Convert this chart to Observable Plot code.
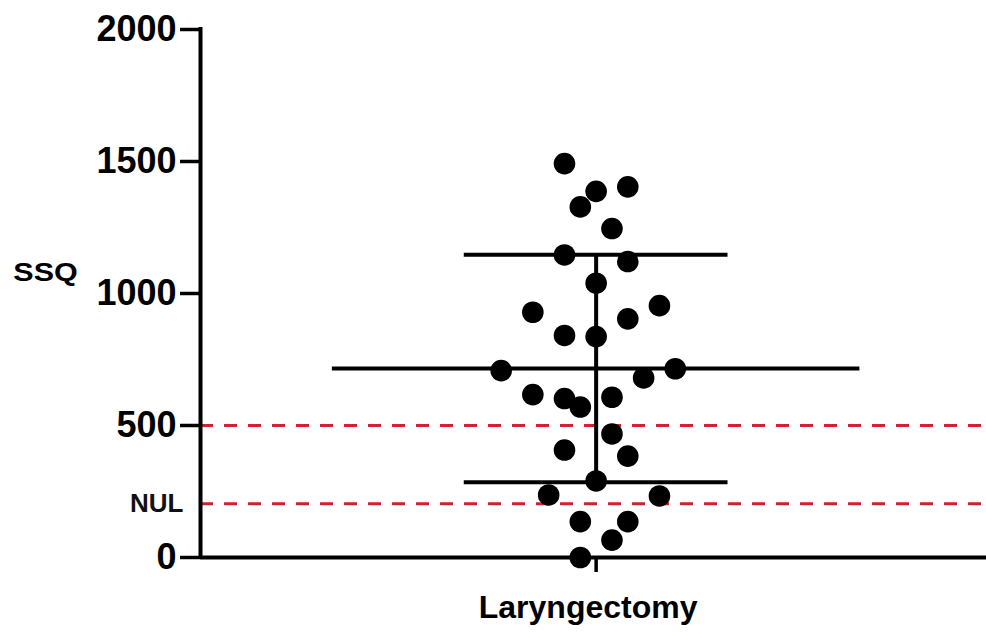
<!DOCTYPE html>
<html>
<head>
<meta charset="utf-8">
<script src="https://cdn.jsdelivr.net/npm/d3@7"></script>
<script src="https://cdn.jsdelivr.net/npm/@observablehq/plot@0.6"></script>
<style>
  html, body { margin: 0; padding: 0; background: #fff; }
  #chart svg { display: block; }
</style>
</head>
<body>
<div id="chart"></div>
<script>
// ---- data ----
const category = "Laryngectomy";
const ssqValues = [1492, 1387, 1404, 1328, 1246, 1146, 1121, 1039, 929, 954,
                   904, 841, 837, 708, 715, 680, 617, 602, 570, 607,
                   468, 407, 384, 290, 237, 233, 136, 136, 66, 0];
// horizontal scatter position of each dot (in half-dot steps)
const jitterIndex = [-2, 0, 2, -1, 1, -2, 2, 0, -4, 4,
                      2, -2, 0, -6, 5, 3, -4, -2, -1, 1,
                      1, -2, 2, 0, -3, 4, -1, 2, 1, -1];
const yTicks = [0, 500, 1000, 1500, 2000];
const thresholdValue = 500;
const nulValue = 204;
const nulLabel = "NUL";
const yLabel = "SSQ";

// ---- derived ----
const jitterStep = 0.06;
const points = ssqValues.map((v, i) => ({value: v, offset: jitterIndex[i] * jitterStep}));
const meanValue = d3.mean(ssqValues);
const sdValue = d3.deviation(ssqValues);
const xMin = -1.5, xMax = 1.48;
const font = "Liberation Sans, Arial, Helvetica, sans-serif";

const chart = Plot.plot({
  width: 986,
  height: 635,
  marginLeft: 200,
  marginRight: 0,
  marginTop: 29,
  marginBottom: 78,
  style: {fontFamily: font, color: "#000", background: "#fff"},
  x: {domain: [xMin, xMax], label: null},
  y: {domain: [0, 2000], label: null},
  marks: [
    // reference dashed lines
    Plot.ruleY([thresholdValue, nulValue], {stroke: "#d42030", strokeWidth: 3, strokeDasharray: "13,11"}),
    // axes lines
    Plot.ruleX([xMin], {y1: 0, y2: 2000, stroke: "#000", strokeWidth: 4, strokeLinecap: "square"}),
    Plot.ruleY([0], {stroke: "#000", strokeWidth: 4}),
    Plot.axisY({ticks: yTicks, tickSize: 20, tickPadding: 4, strokeWidth: 3.5,
                fontSize: 36, fontWeight: "bold", tickFormat: d => String(d)}),
    Plot.axisX({ticks: [0], tickSize: 15, strokeWidth: 3.5, tickFormat: () => ""}),
    // labels
    Plot.text([category], {x: 0, frameAnchor: "bottom", lineAnchor: "middle", text: d => d, dx: -8, dy: 50,
                           textAnchor: "middle", fontSize: 32, fontWeight: "bold", fill: "#000"}),
    Plot.text([yLabel], {frameAnchor: "left", lineAnchor: "middle", text: d => d, dx: -155, dy: -21,
                         textAnchor: "middle", fontSize: 25, fontWeight: "bold", fill: "#000"}),
    Plot.text([nulValue], {x: xMin, y: d => d, text: () => nulLabel, textAnchor: "end",
                           dx: -17, fontSize: 26, fontWeight: "bold", fill: "#111"}),
    // mean and SD
    Plot.ruleY([meanValue], {x1: -1, x2: 1, stroke: "#000", strokeWidth: 4}),
    Plot.ruleY([meanValue - sdValue, meanValue + sdValue], {x1: -0.5, x2: 0.5, stroke: "#000", strokeWidth: 4}),
    Plot.ruleX([0], {y1: meanValue - sdValue, y2: meanValue + sdValue, stroke: "#000", strokeWidth: 4}),
    // data points
    Plot.dot(points, {x: "offset", y: "value", r: 10.8, fill: "#000", stroke: "none"})
  ]
});

document.getElementById("chart").appendChild(chart);

// the reference's SSQ label is drawn in a wider face: stretch it horizontally about its centre
d3.select(chart).selectAll("text")
  .filter(function() { return this.textContent === yLabel; })
  .each(function() {
    const b = this.getBBox();
    const cx = b.x + b.width / 2;
    const t = this.getAttribute("transform") || "";
    this.setAttribute("transform", `${t} translate(${cx},0) scale(1.22,1) translate(${-cx},0)`);
  });
</script>
</body>
</html>
